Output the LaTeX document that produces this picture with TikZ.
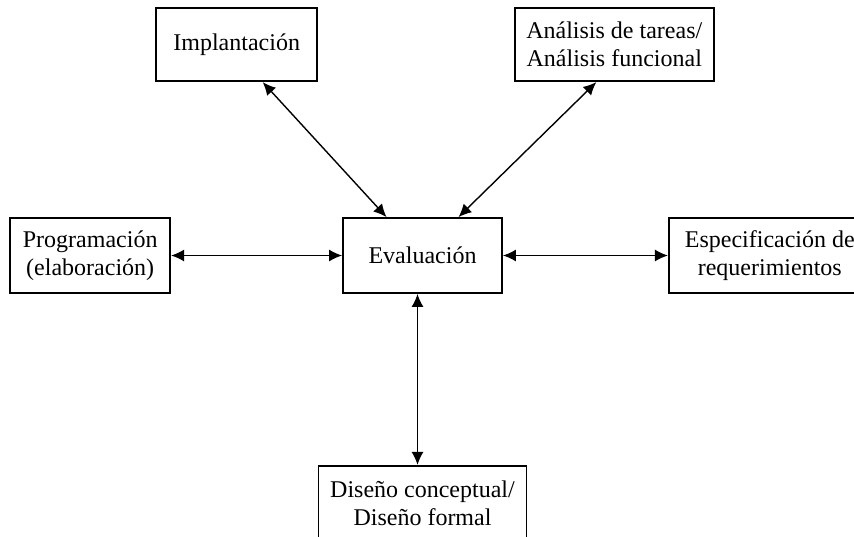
\documentclass[tikz,border=0pt]{standalone}
\usepackage{fontspec}
\setmainfont{Liberation Serif}
\usetikzlibrary{arrows.meta,positioning}
\tikzset{
    %Define standard arrow tip
    >={Latex[length=6.5pt,width=6pt]},
    %Define style for boxes
    caja/.style={
           rectangle,
           draw=black, line width=0.9pt,
           minimum height=37.5pt,
           font=\fontsize{12}{14}\selectfont,
           align=center,
           inner sep=2pt},
    % Define arrow style
    flecha/.style={
           <->,
           line width=0.7pt}
}

\begin{document}
\begin{tikzpicture}[node distance=85.5pt]
\useasboundingbox (-211.25pt,-140.25pt) rectangle (215.75pt,127.75pt);
 %nodes
\node[caja, minimum width=79.5pt](eval){Evaluación};
\node[caja, minimum width=80pt, left=of eval](prog){Programación\\(elaboración)};
\node[caja, minimum width=101pt, right=82.5pt of eval](espec){Especificación de\\requerimientos};
\node[caja, minimum width=104pt, below=of eval](dis){Diseño conceptual/\\Diseño formal};
\node[caja, minimum width=80.5pt, minimum height=36.5pt, above left=67.5pt and 12pt of eval](impl){Implantación};
\node[caja, minimum width=99.5pt, minimum height=36.5pt, above right=67.5pt and 5.5pt of eval](anal){Análisis de tareas/\\Análisis funcional};
 %arrows
\draw[flecha] (prog) -- (eval);
\draw[flecha] (eval) -- (espec);
\draw[flecha] ([xshift=-2.5pt]eval.south) -- ([xshift=-2.5pt]dis.north);
\draw[flecha] ([xshift=13pt]impl.south) -- ([xshift=-18pt]eval.north);
\draw[flecha] ([xshift=-9pt]anal.south) -- ([xshift=18pt]eval.north);
\end{tikzpicture}
\end{document}
